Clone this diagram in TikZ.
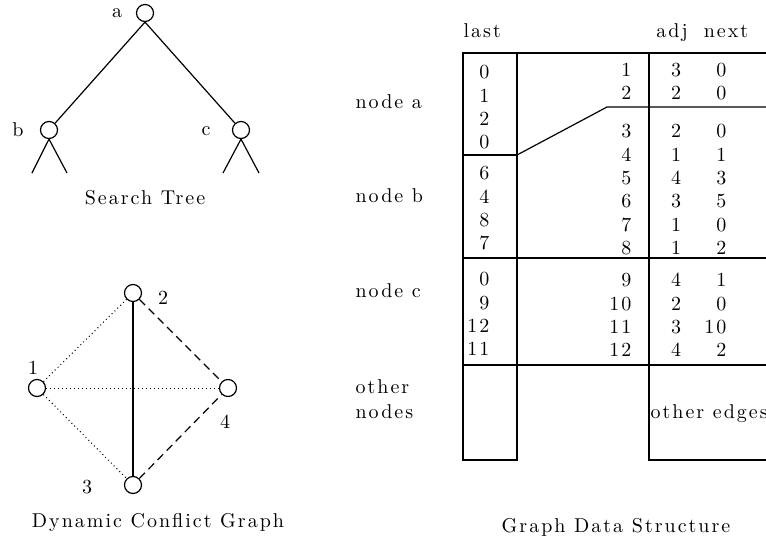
\documentclass[tikz,border=0pt]{standalone}
\usepackage{fontspec}
\setmainfont{lmroman10-regular.otf}[LetterSpace=10]
\usetikzlibrary{positioning}
\tikzset{
    vertex/.style={circle, draw, inner sep=0pt, minimum size=8.5pt}, % the small round nodes
    tag/.style={inner sep=0pt}, % node names and plain labels
    word/.style={inner sep=0pt, anchor=base west},
    num/.style={inner sep=0pt, anchor=base east}, % right aligned numbers
    mid/.style={inner sep=0pt, anchor=base}, % centred numbers
    weak/.style={line width=0.5pt, dash pattern=on 0.5pt off 1.5pt}, % dotted conflicts
    strong/.style={dash pattern=on 4pt off 2.5pt}, % dashed conflicts
}

\begin{document}
\begin{tikzpicture}[x=0.5pt, y=-0.5pt, line width=0.6pt]
  \useasboundingbox (0,0) rectangle (766,546);

  % Search tree
  \node[vertex] (t_a) at (145,13)  {};
  \node[vertex] (t_b) at (49,130)  {};
  \node[vertex] (t_c) at (241,130) {};
  \node[tag] (l_a) at (117,13)  {a};
  \node[tag] (l_b) at (18,130)  {b};
  \node[tag] (l_c) at (206,131) {c};
  \coordinate (b_l) at (32,173);
  \coordinate (b_r) at (67,173);
  \coordinate (c_l) at (223,173);
  \coordinate (c_r) at (259,173);
  \draw (t_a.south) -- (t_b);
  \draw (t_a.south) -- (t_c);
  \draw (b_l) -- (t_b.south) -- (b_r);
  \draw (c_l) -- (t_c.south) -- (c_r);
  \node[mid] (cap_tree) at (145,204) {Search Tree};

  % Dynamic conflict graph
  \node[vertex] (v_1) at (37,388)  {};
  \node[vertex] (v_2) at (133,293) {};
  \node[vertex] (v_3) at (133,485) {};
  \node[vertex] (v_4) at (228,388) {};
  \node[tag] (l_1) at (33,368)  {1};
  \node[tag] (l_2) at (163,298) {2};
  \node[tag] (l_3) at (87,487)  {3};
  \node[tag] (l_4) at (225,422) {4};
  \path
    (v_1) edge[weak] (v_2)
    (v_1) edge[weak] (v_4)
    (v_1) edge[weak] (v_3)
    (v_2) edge (v_3)
    (v_2) edge[strong] (v_4)
    (v_3) edge[strong] (v_4);
  \node[mid] (cap_graph) at (158,527) {Dynamic Conflict Graph};

  % Graph data structure
  \draw (463,53) rectangle (517,460);
  \draw (517,53) -- (770,53);
  \draw (649,53) -- (649,460) -- (770,460);
  \draw (517,155) -- (607,107) -- (770,107);
  \draw (463,155) -- (517,155);
  \draw (463,258) -- (770,258);
  \draw (463,365) -- (770,365);

  \node[word] (h_last) at (463,37) {last};
  \node[mid]  (h_adj)  at (672,37) {adj};
  \node[mid]  (h_next) at (726,37) {next};

  \node[word] (n_a) at (355,108) {node a};
  \node[word] (n_b) at (355,202) {node b};
  \node[word] (n_c) at (355,297) {node c};
  \node[word] (n_o1) at (355,393) {other};
  \node[word] (n_o2) at (355,418) {nodes};
  \node[word] (e_o) at (650,418) {other edges};

  % last column
  \foreach \v/\y [count=\i] in {0/78, 1/102, 2/125, 0/148, 6/179, 4/203, 8/226, 7/249,
                                 0/285, 9/309, 12/332, 11/355}
    \node[num] (last_\i) at (490,\y) {\v};

  % edge rows: index, adj, next
  \foreach \k/\y/\adj/\nxt in {1/76/3/0, 2/99/2/0, 3/137/2/0, 4/161/1/1, 5/184/4/3,
                                6/207/3/5, 7/231/1/0, 8/254/1/2, 9/286/4/1, 10/310/2/0,
                                11/333/3/10, 12/356/4/2}
  {
    \node[num] (idx_\k) at (632,\y) {\k};
    \node[mid] (adj_\k) at (676,\y) {\adj};
    \node[num] (nxt_\k) at (727,\y) {\nxt};
  }
  \node[mid] (cap_data) at (616,532) {Graph Data Structure};
\end{tikzpicture}
\end{document}
